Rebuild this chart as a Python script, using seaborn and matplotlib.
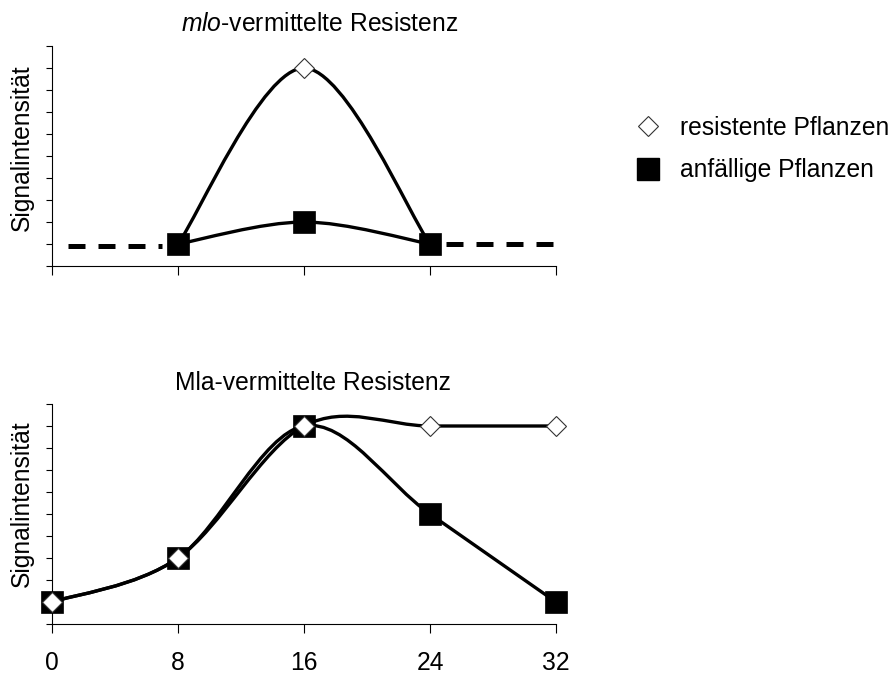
import numpy as np
import pandas as pd
import matplotlib
matplotlib.use("Agg")
import matplotlib.pyplot as plt
import seaborn as sns
from matplotlib.lines import Line2D
from matplotlib.path import Path
from matplotlib.patches import PathPatch


# time points (hours)
hours = [0, 8, 16, 24, 32]

# mlo-mediated resistance (top panel)
mlo_resistant = [np.nan, 1, 9, 1, np.nan]
mlo_susceptible = [np.nan, 1, 2, 1, np.nan]
mlo_base_left_x = [1, 7]
mlo_base_left_y = [0.9, 0.9]
mlo_base_right_x = [25, 32.5]
mlo_base_right_y = [1.0, 1.0]

# Mla-mediated resistance (bottom panel)
mla_resistant = [1, 3, 9, 9, 9]
mla_susceptible = [1, 3, 9, 5, 1]

y_ticks = list(range(0, 11))
series_labels = ["resistente Pflanzen", "anfällige Pflanzen"]

FS = 17.7
W, H = 892, 675


def smooth_path(xs, ys):
    """Excel-style smoothed line as a cubic Bezier path through the points."""
    pts = np.column_stack([xs, ys]).astype(float)
    pts = pts[~np.isnan(pts).any(axis=1)]
    n = len(pts)
    verts = [pts[0]]
    codes = [Path.MOVETO]
    for i in range(n - 1):
        p0 = pts[max(i - 1, 0)]
        p1 = pts[i]
        p2 = pts[i + 1]
        p3 = pts[min(i + 2, n - 1)]
        verts += [p1 + (p2 - p0) / 6, p2 - (p3 - p1) / 6, p2]
        codes += [Path.CURVE4] * 3
    return Path(verts, codes)


def draw_curve(ax, xs, ys):
    patch = PathPatch(smooth_path(xs, ys), facecolor="none", edgecolor="black",
                      lw=2.4, transform=ax.transData, clip_on=False, zorder=2,
                      capstyle="round", joinstyle="round")
    ax.add_patch(patch)


def draw_markers(ax, df, col, kind):
    if kind == "square":
        style = dict(marker="s", markersize=15.5, markerfacecolor="black",
                     markeredgecolor="black", markeredgewidth=0.5)
    else:
        style = dict(marker="D", markersize=10.5, markerfacecolor="white",
                     markeredgecolor="#333333", markeredgewidth=0.8)
    sns.lineplot(data=df, x="hours", y=col, ax=ax, linestyle="none",
                 clip_on=False, zorder=3, legend=False, **style)


sns.set_theme(style="white")
plt.rcParams["font.family"] = ["Liberation Sans", "DejaVu Sans"]
plt.rcParams["mathtext.fontset"] = "custom"
plt.rcParams["mathtext.rm"] = "Liberation Sans"
plt.rcParams["mathtext.it"] = "Liberation Sans:italic"
plt.rcParams["text.color"] = "black"
plt.rcParams["axes.labelcolor"] = "black"
plt.rcParams["xtick.color"] = "black"
plt.rcParams["ytick.color"] = "black"

df = pd.DataFrame({
    "hours": hours,
    "mlo_res": mlo_resistant,
    "mlo_sus": mlo_susceptible,
    "mla_res": mla_resistant,
    "mla_sus": mla_susceptible,
})

fig = plt.figure(figsize=(W / 100, H / 100), dpi=100)
ax_top = fig.add_axes([52 / W, 1 - 266 / H, 504 / W, 220 / H])
ax_bot = fig.add_axes([52 / W, 1 - 624 / H, 504 / W, 220 / H])

# top panel
ax_top.plot(mlo_base_left_x, mlo_base_left_y, color="black", lw=3.6,
            dashes=(3.4, 2.6), clip_on=False, zorder=2)
ax_top.plot(mlo_base_right_x, mlo_base_right_y, color="black", lw=3.6,
            dashes=(3.4, 2.6), clip_on=False, zorder=2)
draw_curve(ax_top, hours, mlo_resistant)
draw_curve(ax_top, hours, mlo_susceptible)
draw_markers(ax_top, df, "mlo_res", "diamond")
draw_markers(ax_top, df, "mlo_sus", "square")
ax_top.set_title(r"$\mathit{mlo}$-vermittelte Resistenz", fontsize=FS, pad=11,
                 x=0.53)

# bottom panel
draw_curve(ax_bot, hours, mla_resistant)
draw_curve(ax_bot, hours, mla_susceptible)
draw_markers(ax_bot, df, "mla_sus", "square")
draw_markers(ax_bot, df, "mla_res", "diamond")
ax_bot.set_title("Mla-vermittelte Resistenz", fontsize=FS, pad=10, x=0.518)

for ax, label_y in ((ax_top, 0.536), (ax_bot, 0.545)):
    ax.set_xlim(hours[0], hours[-1])
    ax.set_ylim(y_ticks[0], y_ticks[-1])
    ax.set_xticks(hours)
    ax.set_yticks(y_ticks)
    ax.set_yticklabels([])
    ax.set_ylabel("Signalintensität", fontsize=FS)
    ax.yaxis.set_label_coords(-0.036, label_y)
    sns.despine(ax=ax)
    for side in ("left", "bottom"):
        ax.spines[side].set_color("black")
        ax.spines[side].set_linewidth(0.8)
    ax.tick_params(axis="y", direction="out", length=4.3, width=0.8,
                   color="black", left=True)
    ax.tick_params(axis="x", direction="out", length=6.5, width=0.8,
                   color="black", bottom=True, labelsize=FS, pad=13)
    ax.grid(False)
    ax.set_xlabel("")

ax_top.set_xticklabels([])

handles = [
    Line2D([], [], linestyle="none", marker="D", markersize=10.5,
           markerfacecolor="white", markeredgecolor="#333333", markeredgewidth=0.8),
    Line2D([], [], linestyle="none", marker="s", markersize=15.5,
           markerfacecolor="black", markeredgecolor="black"),
]
fig.legend(handles, series_labels, loc="upper left",
           bbox_to_anchor=(636 / W, 1 - 116 / H), frameon=False, fontsize=FS,
           handlelength=1.0, handletextpad=0.8, labelspacing=0.74,
           borderpad=0, borderaxespad=0)

fig.savefig("out.png", dpi=100)
